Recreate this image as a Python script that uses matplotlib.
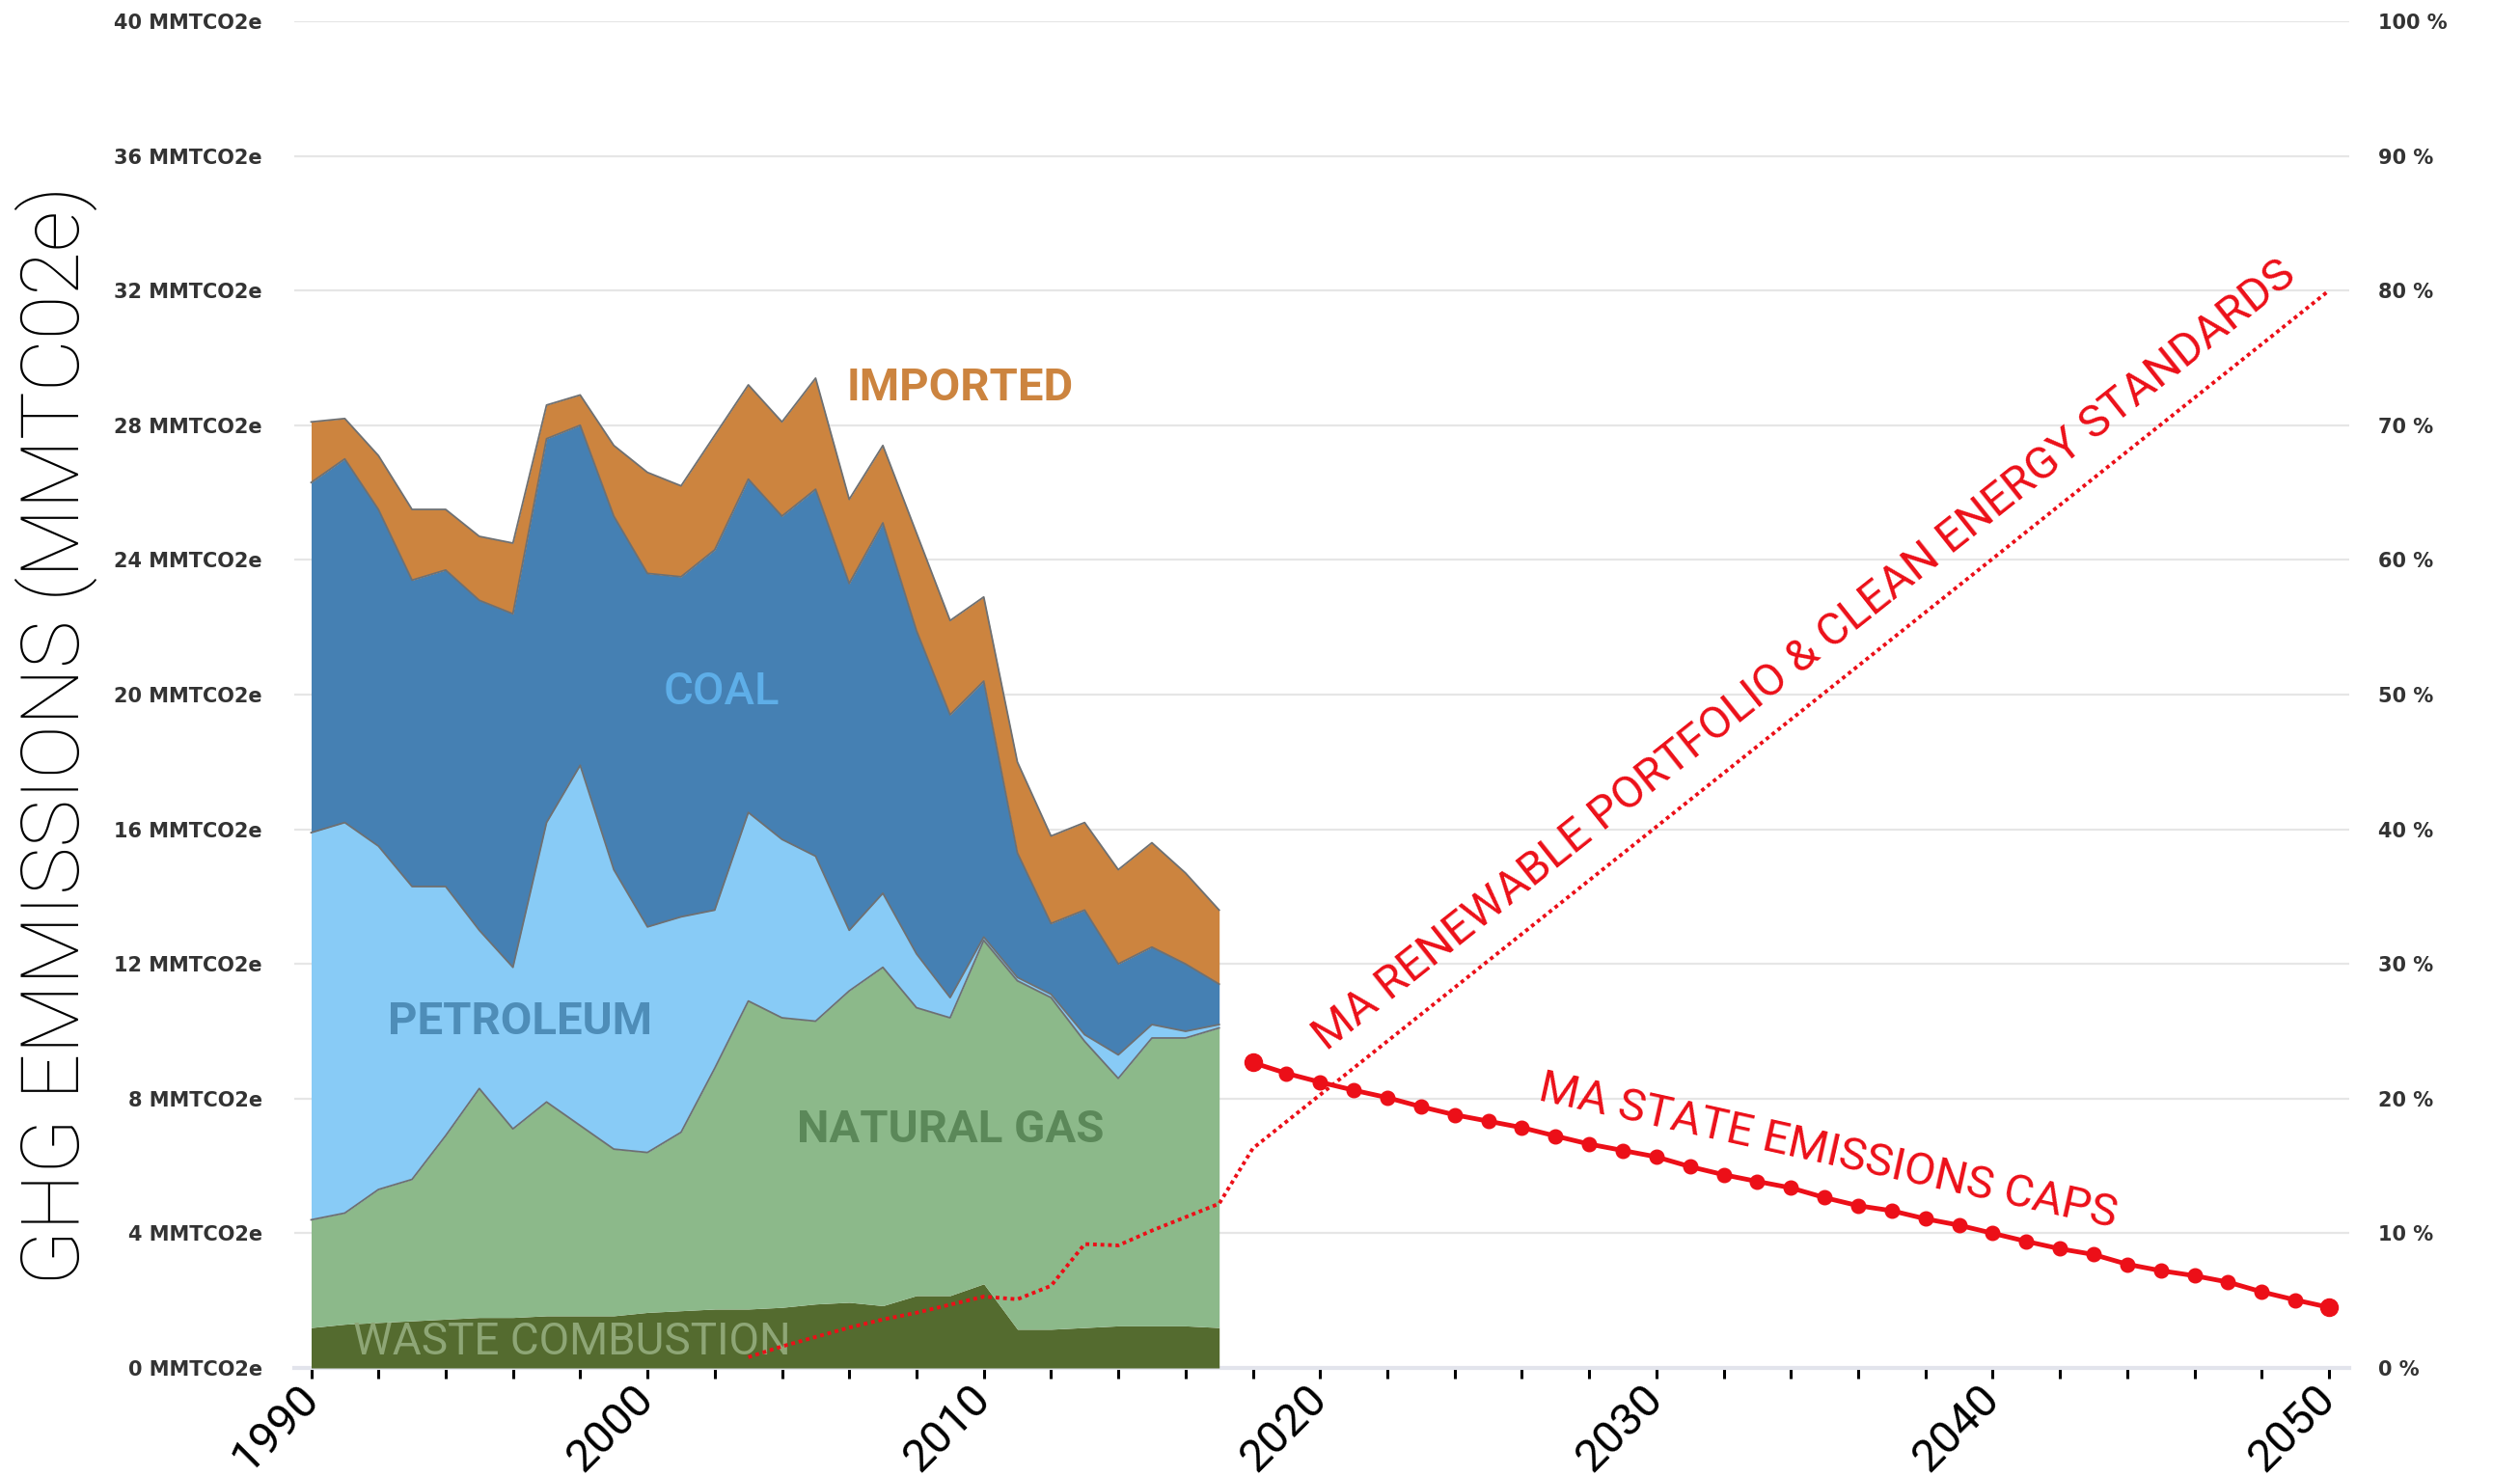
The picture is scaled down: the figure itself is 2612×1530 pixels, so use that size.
import matplotlib
matplotlib.use('Agg')
import matplotlib.pyplot as plt
import numpy as np

# stacked emission sources, 1990-2017 (cumulative tops, MMTCO2e)
years = np.arange(1990, 2018)
waste_top = [1.2, 1.3, 1.35, 1.4, 1.45, 1.5, 1.5, 1.55, 1.55, 1.55, 1.65, 1.7, 1.75, 1.75,
             1.8, 1.9, 1.95, 1.85, 2.15, 2.15, 2.5, 1.15, 1.15, 1.2, 1.25, 1.25, 1.25, 1.2]
gas_top = [4.4, 4.6, 5.3, 5.6, 6.9, 8.3, 7.1, 7.9, 7.2, 6.5, 6.4, 7.0, 8.9, 10.9,
           10.4, 10.3, 11.2, 11.9, 10.7, 10.4, 12.7, 11.5, 11.0, 9.7, 8.6, 9.8, 9.8, 10.1]
petro_top = [15.9, 16.2, 15.5, 14.3, 14.3, 13.0, 11.9, 16.2, 17.9, 14.8, 13.1, 13.4, 13.6, 16.5,
             15.7, 15.2, 13.0, 14.1, 12.3, 11.0, 12.8, 11.6, 11.1, 9.9, 9.3, 10.2, 10.0, 10.2]
coal_top = [26.3, 27.0, 25.5, 23.4, 23.7, 22.8, 22.4, 27.6, 28.0, 25.3, 23.6, 23.5, 24.3, 26.4,
            25.3, 26.1, 23.3, 25.1, 21.9, 19.4, 20.4, 15.3, 13.2, 13.6, 12.0, 12.5, 12.0, 11.4]
imported_top = [28.1, 28.2, 27.1, 25.5, 25.5, 24.7, 24.5, 28.6, 28.9, 27.4, 26.6, 26.2, 27.7, 29.2,
                28.1, 29.4, 25.8, 27.4, 24.8, 22.2, 22.9, 18.0, 15.8, 16.2, 14.8, 15.6, 14.7, 13.6]

# state emission caps (MMTCO2e)
cap_years = np.arange(2018, 2051)
caps = [9.07, 8.75, 8.49, 8.25, 8.03, 7.76, 7.52, 7.33, 7.14, 6.89, 6.65, 6.46, 6.27,
        5.98, 5.74, 5.54, 5.35, 5.06, 4.82, 4.67, 4.43, 4.24, 4.0, 3.76, 3.54, 3.37,
        3.08, 2.89, 2.74, 2.55, 2.26, 2.02, 1.80]

# renewable portfolio & clean energy standard (%)
rps_years = [2003, 2004, 2005, 2006, 2007, 2008, 2009, 2010, 2011, 2012, 2013, 2014,
             2015, 2016, 2017, 2018, 2050]
rps_pct = [0.8, 1.6, 2.3, 3.0, 3.6, 4.1, 4.7, 5.3, 5.1, 6.1, 9.2, 9.1,
           10.2, 11.2, 12.2, 16.3, 80.0]

left_ticks = np.arange(0, 41, 4)
right_ticks = np.arange(0, 101, 10)
decades = [1990, 2000, 2010, 2020, 2030, 2040, 2050]

rob = ['Roboto', 'DejaVu Sans']
red = '#ec0f18'

fig = plt.figure(figsize=(26.12, 15.30), dpi=100)
ax = fig.add_axes([0.1168, 0.0732, 0.8154, 0.9124])
ax2 = ax.twinx()

ax.set_xlim(1989.5, 2050.6)
ax.set_ylim(0, 40)
ax2.set_ylim(0, 100)

layers = [(np.zeros(len(years)), waste_top, '#546b2f'),
          (waste_top, gas_top, '#8cb98a'),
          (gas_top, petro_top, '#88cbf6'),
          (petro_top, coal_top, '#4580b3'),
          (coal_top, imported_top, '#cc843f')]
for lo, hi, c in layers:
    ax.fill_between(years, lo, hi, color=c, lw=0, zorder=2)
for top in [gas_top, petro_top, coal_top, imported_top]:
    ax.plot(years, top, color='#6e7072', lw=1.3, zorder=3)

# area labels
ax.text(2009.3, 29.1, 'IMPORTED', color='#cc843f', fontsize=34, fontweight='bold',
        family=rob, ha='center', va='center', zorder=4)
ax.text(2002.2, 20.1, 'COAL', color='#5eaee8', fontsize=34, fontweight='medium',
        family=rob, ha='center', va='center', zorder=4)
ax.text(1996.2, 10.3, 'PETROLEUM', color='#4e8db8', fontsize=34, fontweight='bold',
        family=rob, ha='center', va='center', zorder=4)
ax.text(2009.0, 7.08, 'NATURAL GAS', color='#5b8859', fontsize=34, fontweight='bold',
        family=rob, ha='center', va='center', zorder=4)
ax.text(1997.75, 0.78, 'WASTE COMBUSTION', color='#8ea676', fontsize=33,
        family=rob, ha='center', va='center', zorder=4)

# policy lines
ax.plot(cap_years, caps, color=red, lw=3.5, marker='o', ms=10.5, zorder=5)
ax.plot([cap_years[0], cap_years[-1]], [caps[0], caps[-1]], ls='none', marker='o',
        ms=13, color=red, zorder=6)
ax2.plot(rps_years, rps_pct, color=red, lw=2.8, ls=(0, (1, 1)), zorder=5)

ax.text(2034.4, 21.15, 'MA RENEWABLE PORTFOLIO & CLEAN ENERGY STANDARDS', color=red,
        fontsize=34, family=rob, rotation=38.5, rotation_mode='anchor',
        ha='center', va='center', zorder=6)
ax.text(2035.1, 6.42, 'MA STATE EMISSIONS CAPS', color=red,
        fontsize=34, family=rob, rotation=-12.5, rotation_mode='anchor',
        ha='center', va='center', zorder=6)

# axes styling
for a in (ax, ax2):
    for s in a.spines.values():
        s.set_visible(False)
ax.spines['bottom'].set_visible(True)
ax.spines['bottom'].set_color('#e2e4ec')
ax.spines['bottom'].set_linewidth(3)
ax.spines['bottom'].set_zorder(1)

ax.set_yticks(left_ticks)
ax.set_yticklabels([f'{v} MMTCO2e' for v in left_ticks])
ax.tick_params(axis='y', length=0, pad=24, labelsize=15, labelcolor='#333333')
for lab in ax.get_yticklabels():
    lab.set_fontweight('bold')
ax.grid(axis='y', color='#e6e6e6', lw=1.6, zorder=0)
ax.set_axisbelow(True)

ax2.set_yticks(right_ticks)
ax2.set_yticklabels([f'{v} %' for v in right_ticks])
ax2.tick_params(axis='y', length=0, pad=22, labelsize=15, labelcolor='#333333')
for lab in ax2.get_yticklabels():
    lab.set_fontweight('bold')

ax.set_xticks(np.arange(1990, 2051, 2))
ax.set_xticklabels([str(y) if y in decades else '' for y in range(1990, 2051, 2)],
                   rotation=45, ha='right', va='center', rotation_mode='anchor')
ax.tick_params(axis='x', direction='out', length=8, width=2.2, color='black',
               labelsize=34, labelcolor='black', pad=10)
for lab in ax.get_xticklabels():
    lab.set_family(rob)

fig.text(0.0222, 0.502, 'GHG EMMISSIONS (MMTC02e)', rotation=90, fontsize=60,
         family=rob, fontweight='light', ha='center', va='center', color='black')

fig.savefig('out.png', dpi=100)
